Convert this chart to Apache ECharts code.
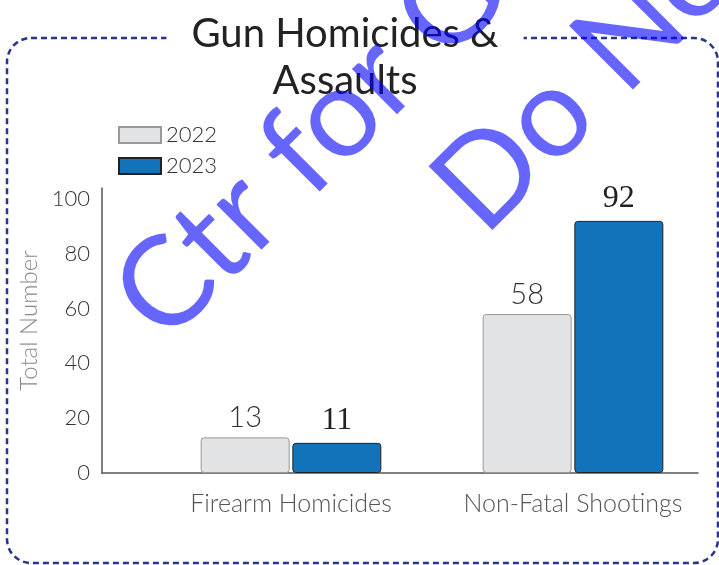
<!DOCTYPE html>
<html>
<head>
  <meta charset="utf-8">
  <title>Gun Homicides & Assaults</title>
  <script src="https://cdn.jsdelivr.net/npm/echarts@6/dist/echarts.min.js"></script>
  <style>
    * { margin: 0; padding: 0; }
    html, body, #chart { width: 100%; height: 100%; overflow: hidden; background: #fff; }
  </style>
</head>
<body>
  <div id="chart"></div>
  <script>
    // data
    var categories = ['Firearm Homicides', 'Non-Fatal Shootings'];
    var years = ['2022', '2023'];
    var values2022 = [13, 58];
    var values2023 = [11, 92];
    var yTicks = [0, 20, 40, 60, 80, 100];

    var sans = 'Lato, "Open Sans", sans-serif';
    var gridTop = 188, gridBottom = 92;
    var watermark = 'rgba(0,0,255,0.6)';

    var option = {
      backgroundColor: '#fff',
      animation: false,
      title: {
        text: 'Gun Homicides &\nAssaults',
        left: 320,
        top: 9,
        textAlign: 'center',
        padding: [2, 25],
        backgroundColor: '#fff',
        textStyle: {
          fontFamily: sans,
          fontSize: 40,
          fontWeight: 'normal',
          lineHeight: 47,
          color: '#222'
        },
        z: 5
      },
      legend: {
        orient: 'vertical',
        left: 113,
        top: 119,
        itemWidth: 42,
        itemHeight: 16,
        itemGap: 9,
        icon: 'rect',
        data: years,
        textStyle: { fontFamily: sans, fontSize: 22, color: '#333', fontWeight: 300 }
      },
      grid: [
        { left: 150, right: 5, top: gridTop, bottom: gridBottom },
        { left: 102, right: 21, top: gridTop, bottom: gridBottom }
      ],
      xAxis: [
        {
          type: 'category', gridIndex: 0, data: categories,
          axisLine: { show: false }, axisTick: { show: false },
          axisLabel: { interval: 0, hideOverlap: false, margin: 18, fontFamily: sans, fontSize: 25, color: '#555', fontWeight: 300 }
        },
        {
          type: 'category', gridIndex: 1, data: categories,
          axisLine: { lineStyle: { color: '#555', width: 1.5 } },
          axisTick: { show: false }, axisLabel: { show: false }
        }
      ],
      yAxis: [
        { type: 'value', gridIndex: 0, min: 0, max: 104, show: false, splitLine: { show: false } },
        {
          type: 'value', gridIndex: 1, min: 0, max: 104, interval: 20,
          name: 'Total Number', nameLocation: 'middle', nameGap: 56,
          nameTextStyle: { fontFamily: sans, fontSize: 24, color: '#888', fontWeight: 300, padding: [0, 0, 0, 20] },
          axisLine: { show: true, lineStyle: { color: '#555', width: 1.5 } },
          axisTick: { show: false }, splitLine: { show: false },
          axisLabel: {
            margin: 12, showMaxLabel: false, fontFamily: sans, fontSize: 22, color: '#333', fontWeight: 300,
            formatter: function (v) { return yTicks.indexOf(v) >= 0 ? v : ''; }
          }
        }
      ],
      series: [
        {
          name: years[0], type: 'bar', xAxisIndex: 0, yAxisIndex: 0,
          data: values2022, barWidth: 89, barGap: '3%',
          itemStyle: { color: '#e2e3e5', borderColor: '#999', borderWidth: 1, borderRadius: 3 },
          label: { show: true, position: 'top', distance: 5, fontFamily: sans, fontSize: 29, color: '#333', fontWeight: 300 }
        },
        {
          name: years[1], type: 'bar', xAxisIndex: 0, yAxisIndex: 0,
          data: values2023, barWidth: 89,
          itemStyle: { color: '#1273bb', borderColor: '#222', borderWidth: 1, borderRadius: 3 },
          label: { show: true, position: 'top', distance: 6, fontFamily: '"Liberation Serif", "DejaVu Serif", serif', fontSize: 32, color: '#222' }
        }
      ],
      graphic: [
        {
          type: 'rect', z: -1,
          shape: { x: 7, y: 38, width: 711, height: 525, r: 24 },
          style: { fill: null, stroke: '#27358f', lineWidth: 2.5, lineDash: [6, 4] }
        },
        {
          type: 'text', z: 100, x: 181, y: 362, rotation: Math.PI / 4,
          style: { text: 'Ctr for Gun', fill: watermark, font: '126px Lato, sans-serif', textAlign: 'left', textVerticalAlign: 'bottom' }
        },
        {
          type: 'text', z: 100, x: 500, y: 254, rotation: Math.PI / 4,
          style: { text: 'Do Not', fill: watermark, font: '126px Lato, sans-serif', textAlign: 'left', textVerticalAlign: 'bottom' }
        }
      ]
    };

    var chart = echarts.init(document.getElementById('chart'));
    chart.setOption(option);
  </script>
</body>
</html>
